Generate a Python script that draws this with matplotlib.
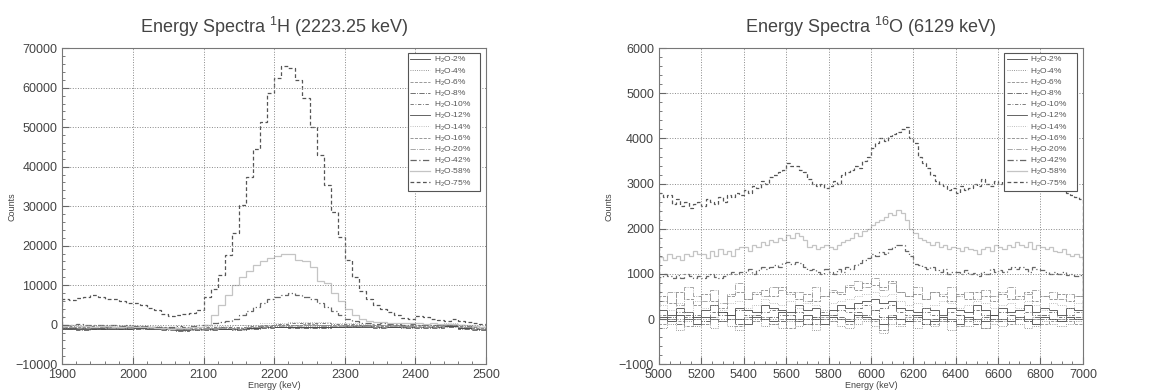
import numpy as np
import matplotlib
matplotlib.use("Agg")
import matplotlib.pyplot as plt
from matplotlib.ticker import MultipleLocator

plt.rcParams["font.family"] = ["Liberation Sans", "DejaVu Sans"]
plt.rcParams["mathtext.fontset"] = "custom"
plt.rcParams["mathtext.rm"] = "Liberation Sans"
plt.rcParams["mathtext.it"] = "Liberation Sans:italic"

LABELS = ["2%", "4%", "6%", "8%", "10%", "12%", "14%", "16%", "20%", "42%", "58%", "75%"]

# ---- left: 1H 2223.25 keV, 1900-2500 keV ----
H_EDGES_FINE = np.arange(1900, 2501, 10)    # 10 keV bins
H_EDGES_COARSE = np.arange(1900, 2501, 20)  # 20 keV bins

h75 = [6500, 6300, 6800, 7000, 7500, 7000, 6600, 6500, 6000, 5500,
       5400, 5000, 4300, 3600, 2800, 2300, 2400, 2600, 3000, 3800,
       7000, 9000, 12500, 17600, 23100, 30300, 37500, 44500, 51400, 58600,
       62400, 65500, 65000, 62000, 57300, 50000, 43000, 35400, 28600, 22300,
       16500, 12100, 8500, 6500, 5000, 4000, 3200, 2500, 1800, 1500,
       2200, 2000, 1500, 1200, 900, 1500, 1000, 600, 400, 100]
h58 = [-300, -200, -400, -300, -500, -400, -300, -500, -600, -400,
       -500, -600, -700, -800, -900, -1000, -900, -800, -700, -600,
       0, 2500, 5000, 7500, 10000, 12000, 13500, 15000, 16000, 17000,
       17500, 18000, 17800, 16500, 16000, 14500, 11000, 10500, 8000, 6000,
       4000, 2500, 1500, 1000, 800, 600, 500, 400, 300, 400,
       300, 200, 300, 200, 100, 200, 0, -200, -400, -500]
h42 = [0, -100, 100, 0, -200, -100, 0, -200, -300, -200,
       -300, -400, -500, -600, -500, -600, -400, -500, -300, -200,
       0, 300, 800, 1000, 1500, 2500, 3500, 4500, 5500, 6500,
       7000, 7500, 8000, 7500, 7000, 6500, 5500, 4500, 3500, 2500,
       1500, 1000, 500, 300, 200, 300, 100, 200, 0, 100,
       0, -100, 0, -200, -100, 0, -100, -300, -400, -500]
h2 = [-1000, -1100, -900, -1000, -800, -900, -1000, -1200, -1300, -1200, -1100, -1000, -1200, -800, -600,
      -500, -700, -600, -700, -500, -400, -500, -600, -500, -600, -700, -600, -300, -900, -1200]
h4 = [-800, -900, -700, -800, -900, -700, -800, -1000, -1100, -1300, -1000, -900, -900, -700, -500,
      -300, -200, -400, -300, -500, -300, -400, -500, -400, -500, -600, -500, -200, -700, -1000]
h6 = [-500, -600, -500, -700, -600, -500, -700, -800, -1000, -900, -800, -700, -800, -500, -300,
      -100, 0, 100, -100, -200, -100, -200, -300, -200, -300, -400, -300, 0, -500, -800]
h8 = [-1200, -1300, -1100, -1200, -1000, -1100, -1200, -1400, -1500, -1400, -1300, -1200, -1300, -1000, -800,
      -700, -900, -800, -900, -700, -600, -700, -800, -700, -800, -900, -800, -500, -1100, -1400]
h10 = [-300, -400, -300, -500, -400, -300, -500, -600, -800, -700, -600, -500, -600, -300, -100,
       200, 300, 400, 300, 200, 100, 0, -100, 0, -100, -200, -100, 200, -300, -600]
h12 = [-900, -800, -1000, -900, -1000, -800, -900, -1100, -1200, -1100, -1200, -1100, -1000, -900, -700,
       -600, -500, -600, -500, -600, -500, -400, -500, -600, -700, -600, -700, -400, -800, -1100]
h14 = [-200, -300, -200, -300, -200, -300, -400, -500, -600, -500, -400, -300, -200, 0, 300,
       500, 600, 700, 600, 500, 400, 200, 0, -100, 0, -100, 0, 300, -200, -500]
h16 = [-600, -700, -600, -800, -700, -600, -800, -900, -1100, -1000, -900, -800, -900, -600, -400,
       -200, -100, 0, -200, -300, -200, -300, -400, -300, -400, -500, -400, -100, -600, -900]
h20 = [-700, -800, -700, -900, -800, -700, -900, -1000, -1200, -1100, -1000, -900, -1000, -700, -500,
       -400, -300, -200, -300, -400, -300, -400, -500, -400, -500, -600, -500, -200, -700, -1000]

# ---- right: 16O 6129 keV, 5000-7000 keV ----
O_EDGES_FINE = np.arange(5000, 7001, 20)    # 20 keV bins
O_EDGES_COARSE = np.arange(5000, 7001, 40)  # 40 keV bins

o75 = [2800, 2700, 2750, 2550, 2650, 2500, 2600, 2450, 2550, 2600,
       2500, 2650, 2600, 2550, 2700, 2600, 2750, 2700, 2800, 2750,
       2850, 2800, 2950, 2900, 3050, 3000, 3150, 3200, 3250, 3300,
       3450, 3400, 3400, 3300, 3250, 3100, 3000, 2950, 3000, 2900,
       2950, 3050, 3000, 3200, 3250, 3300, 3400, 3350, 3500, 3600,
       3800, 3900, 4000, 3950, 4050, 4100, 4150, 4200, 4250, 4000,
       3900, 3600, 3450, 3350, 3200, 3050, 3000, 2950, 2850, 2900,
       2800, 2950, 2850, 2900, 3000, 2950, 3100, 3000, 2950, 3050,
       3000, 3050, 2950, 3100, 3000, 3050, 3000, 2950, 3000, 2900,
       3000, 2950, 3000, 2900, 2850, 2900, 2800, 2750, 2700, 2650]
o58 = [1380, 1300, 1450, 1350, 1400, 1300, 1450, 1400, 1500, 1450,
       1450, 1350, 1500, 1400, 1550, 1450, 1500, 1400, 1550, 1600,
       1600, 1500, 1650, 1600, 1700, 1650, 1750, 1700, 1800, 1750,
       1860, 1800, 1900, 1850, 1750, 1600, 1650, 1550, 1600, 1650,
       1600, 1550, 1650, 1700, 1750, 1800, 1900, 1850, 1950, 2000,
       2080, 2150, 2190, 2250, 2340, 2300, 2410, 2350, 2200, 2000,
       1900, 1800, 1750, 1700, 1650, 1700, 1600, 1650, 1550, 1600,
       1570, 1500, 1600, 1550, 1530, 1450, 1550, 1600, 1500, 1650,
       1600, 1550, 1650, 1600, 1700, 1640, 1600, 1700, 1550, 1650,
       1600, 1550, 1600, 1500, 1490, 1550, 1450, 1400, 1450, 1380]
o42 = [940, 1000, 950, 900, 980, 920, 1000, 950, 900, 960,
       900, 950, 1000, 940, 900, 960, 1000, 1050, 1000, 1050,
       1050, 1100, 1000, 1080, 1150, 1100, 1160, 1200, 1150, 1250,
       1270, 1220, 1270, 1250, 1150, 1090, 1100, 1050, 1000, 1100,
       1050, 1000, 1100, 1050, 1160, 1100, 1200, 1250, 1300, 1350,
       1450, 1400, 1490, 1450, 1550, 1600, 1650, 1640, 1500, 1400,
       1230, 1200, 1150, 1100, 1150, 1090, 1050, 1100, 1000, 1050,
       1050, 1000, 1080, 1000, 1010, 950, 1050, 1000, 1100, 1050,
       1090, 1050, 1100, 1150, 1100, 1160, 1100, 1050, 1150, 1100,
       1090, 1050, 1000, 1050, 1000, 1050, 980, 1000, 950, 975]
o2 = [50, -50, 100, 0, -100, 50, 0, -50, 100, 0, -100, 50, 0, -50, 150, 0, -50, 100, 0, -100, 50, 0, -50, 100, 50,
      0, -100, 50, 0, -50, 100, 0, -50, 50, 0, -100, 50, 0, -50, 100, 0, -50, 50, 0, -100, 50, 0, -50, 50, 0]
o4 = [-200, -100, -250, -50, -150, -100, -200, -50, -150, -250, -100, -50, -150, -100, -200, -50, -150, -100, -250, -100,
      -50, -150, -200, -100, -50, -150, -300, -100, -150, -50, -200, -100, -150, -50, -250, -100, -150, -50, -200, -100,
      -150, -50, -100, -200, -150, -50, -100, -150, -100, -50]
o6 = [-100, 0, -50, -150, 50, -100, 0, -50, 100, -150, 0, -50, 50, -100, 0, -200, -50, 0, -100, 50, -50, 0, -100, 50, 0,
      -50, -250, 0, -100, 50, -50, 0, -100, -50, 0, -150, -50, 0, -200, -50, 0, -100, 50, -50, 0, -100, -50, 0, -50, -100]
o8 = [0, 50, -100, 100, 0, -50, 50, 150, 0, -100, 50, 100, 0, 50, -50, 100, 0, -100, 50, 0, 100, 50, 0, 150, 100,
      200, 50, 100, 0, -50, 50, -100, 0, 50, -50, 100, 0, -100, 50, 0, -50, 100, 0, -50, 50, 100, 0, -50, 0, 50]
o10 = [100, 0, 150, 50, 100, -50, 150, 100, 0, 200, 100, 50, 150, 200, 100, 0, 150, 100, 50, 150, 100, 200, 150, 250, 300,
       200, 250, 300, 150, 100, 50, 150, 100, 0, 150, 100, 50, 200, 100, 0, 150, 100, 50, 150, 100, 0, 150, 50, 100, 150]
o12 = [200, 100, 250, 150, 50, 200, 300, 150, 100, 250, 200, 150, 300, 250, 200, 150, 300, 200, 250, 100, 200, 300, 250, 350, 400,
       450, 350, 400, 250, 200, 150, 250, 200, 100, 250, 200, 150, 300, 200, 100, 250, 150, 200, 300, 150, 250, 200, 100, 250, 200]
o14 = [300, 200, 350, 150, 400, 250, 300, 200, 350, 400, 250, 300, 450, 350, 300, 400, 250, 350, 300, 200, 350, 400, 450, 500, 550,
       600, 500, 550, 400, 300, 350, 250, 300, 400, 350, 250, 300, 400, 350, 250, 300, 350, 250, 400, 300, 200, 350, 300, 250, 350]
o16 = [500, 350, 600, 450, 300, 550, 400, 250, 500, 600, 450, 550, 650, 500, 700, 600, 450, 550, 400, 500, 600, 550, 700, 650, 800,
       750, 700, 850, 600, 500, 550, 450, 600, 500, 400, 550, 450, 600, 500, 400, 550, 450, 500, 600, 400, 500, 450, 550, 400, 500]
o20 = [400, 600, 300, 700, 500, 400, 650, 350, 550, 800, 450, 600, 500, 700, 650, 550, 600, 400, 700, 500, 650, 600, 750, 850, 700,
       900, 650, 800, 600, 500, 700, 450, 600, 550, 700, 500, 600, 450, 650, 500, 600, 700, 450, 550, 650, 500, 600, 450, 550, 500]

# one style per concentration (grayscale, ROOT-like line styles)
STYLES = [
    ("#444444", "-"), ("#777777", ":"), ("#8a8a8a", "--"), ("#5a5a5a", "-."),
    ("#666666", (0, (4, 2, 1, 2))), ("#4a4a4a", "-"), ("#aaaaaa", ":"), ("#888888", "--"),
    ("#9a9a9a", "-."), ("#666666", (0, (5, 2, 1, 2))), ("#c4c4c4", "-"), ("#555555", (0, (3, 2))),
]


def draw_panel(ax, series, title, xlim, ylim, xmaj, xmin, ymaj, ymin):
    for lab, (vals, edges), (col, ls) in zip(LABELS, series, STYLES):
        lw = 0.9 if len(vals) > 55 else 0.6
        ax.stairs(vals, edges, color=col, linestyle=ls, linewidth=lw,
                  label=r"H$_2$O-" + lab)
    ax.set_xlim(*xlim)
    ax.set_ylim(*ylim)
    ax.xaxis.set_major_locator(MultipleLocator(xmaj))
    ax.xaxis.set_minor_locator(MultipleLocator(xmin))
    ax.yaxis.set_major_locator(MultipleLocator(ymaj))
    ax.yaxis.set_minor_locator(MultipleLocator(ymin))
    ax.tick_params(which="both", direction="in", colors="#666666",
                   labelcolor="#444444", labelsize=9, top=False, right=False)
    ax.tick_params(which="major", length=5)
    ax.tick_params(which="minor", length=2.5)
    ax.grid(True, which="major", linestyle=":", color="#888888", linewidth=0.7)
    for sp in ax.spines.values():
        sp.set_color("#777777")
        sp.set_linewidth(0.8)
    ax.set_xlabel("Energy (keV)", fontsize=6.5, color="#444444", labelpad=0)
    ax.set_ylabel("Counts", fontsize=6.5, color="#444444")
    ax.yaxis.set_label_coords(-0.108, 0.5)
    leg = ax.legend(loc="upper left", bbox_to_anchor=(0.815, 0.986, 0.17, 0.0),
                    mode="expand", borderaxespad=0, fontsize=6,
                    labelspacing=0.12, handlelength=2.4, handletextpad=0.4,
                    borderpad=0.3, fancybox=False, framealpha=1,
                    edgecolor="#555555")
    leg.get_frame().set_linewidth(0.8)
    for t in leg.get_texts():
        t.set_color("#555555")
    pos = ax.get_position()
    ax.figure.text(pos.x0 + pos.width / 2, 0.931, title, ha="center",
                   va="center", fontsize=13, color="#444444")


fig = plt.figure(figsize=(11.52, 3.92), dpi=100)
ax1 = fig.add_axes([0.054, 0.071, 0.368, 0.806])
ax2 = fig.add_axes([0.572, 0.071, 0.368, 0.806])

left_series = [(h2, H_EDGES_COARSE), (h4, H_EDGES_COARSE), (h6, H_EDGES_COARSE),
               (h8, H_EDGES_COARSE), (h10, H_EDGES_COARSE), (h12, H_EDGES_COARSE),
               (h14, H_EDGES_COARSE), (h16, H_EDGES_COARSE), (h20, H_EDGES_COARSE),
               (h42, H_EDGES_FINE), (h58, H_EDGES_FINE), (h75, H_EDGES_FINE)]
right_series = [(o2, O_EDGES_COARSE), (o4, O_EDGES_COARSE), (o6, O_EDGES_COARSE),
                (o8, O_EDGES_COARSE), (o10, O_EDGES_COARSE), (o12, O_EDGES_COARSE),
                (o14, O_EDGES_COARSE), (o16, O_EDGES_COARSE), (o20, O_EDGES_COARSE),
                (o42, O_EDGES_FINE), (o58, O_EDGES_FINE), (o75, O_EDGES_FINE)]

draw_panel(ax1, left_series, r"Energy Spectra $^{1}$H (2223.25 keV)",
           (1900, 2500), (-10000, 70000), 100, 20, 10000, 2000)
draw_panel(ax2, right_series, r"Energy Spectra $^{16}$O (6129 keV)",
           (5000, 7000), (-1000, 6000), 200, 50, 1000, 200)

fig.savefig("out.png", dpi=100)
